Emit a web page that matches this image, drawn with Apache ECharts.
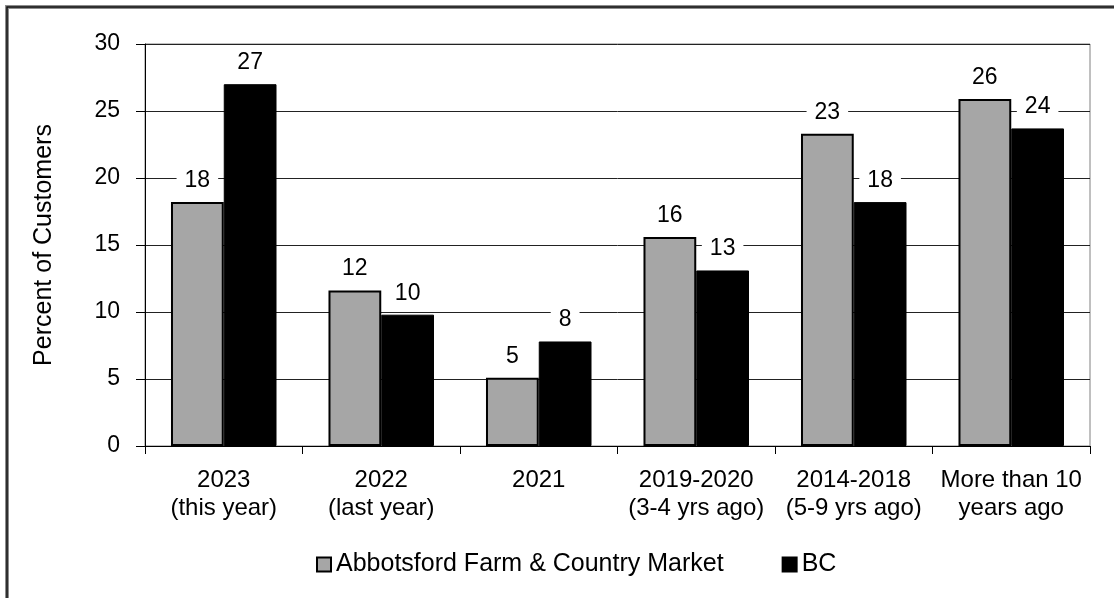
<!DOCTYPE html>
<html>
<head>
<meta charset="utf-8">
<title>Percent of Customers</title>
<script src="https://cdn.jsdelivr.net/npm/echarts@6/dist/echarts.min.js"></script>
<style>
  html, body { margin: 0; padding: 0; background: #fff; }
  #myChart { width: 1114px; height: 598px; }
</style>
</head>
<body>
<div id="myChart"></div>
<script>
// init data
var categories = ['2023\n(this year)', '2022\n(last year)', '2021', '2019-2020\n(3-4 yrs ago)', '2014-2018\n(5-9 yrs ago)', 'More than 10\nyears ago']
var marketValues = [18.2, 11.6, 5.1, 15.6, 23.3, 25.9]
var bcValues = [27.0, 9.8, 7.8, 13.1, 18.2, 23.7]
var seriesNames = ['Abbotsford Farm & Country Market', 'BC']
var yTicks = [0, 5, 10, 15, 20, 25, 30]

// init color
var grayColor = '#a6a6a6'
var blackColor = '#000000'
var fontFamily = '"Liberation Sans", Arial, sans-serif'

var valueLabel = {
	show: true,
	position: 'top',
	distance: 10,
	color: '#000',
	fontSize: 23,
	fontFamily: fontFamily,
	lineHeight: 23,
	backgroundColor: '#fff',
	padding: [0, 8],
	formatter: function(param) {
		return Math.round(param.value)
	}
}

var myChart = echarts.init(document.getElementById('myChart'), null, { renderer: 'canvas' })

myChart.setOption({
	animation: false,
	backgroundColor: '#fff',
	textStyle: { fontFamily: fontFamily },
	// outer frame (only left and top are in view)
	graphic: [
		{
			type: 'rect',
			shape: { x: 7, y: 7, width: 1300, height: 800 },
			style: { fill: 'none', stroke: '#8c8c8c', lineWidth: 4 },
			silent: true
		},
		{
			type: 'rect',
			shape: { x: 7, y: 7, width: 1300, height: 800 },
			style: { fill: 'none', stroke: '#111', lineWidth: 1.5 },
			silent: true
		}
	],
	grid: {
		left: 145,
		right: 24,
		top: 44,
		bottom: 152,
		show: true,
		borderColor: '#808080',
		borderWidth: 1
	},
	legend: {
		data: seriesNames,
		left: 311,
		top: 547,
		itemWidth: 14,
		itemHeight: 14,
		itemGap: 58,
		icon: 'rect',
		textStyle: {
			fontSize: 25,
			color: '#000',
			fontFamily: fontFamily
		}
	},
	xAxis: {
		type: 'category',
		data: categories,
		axisLine: { lineStyle: { color: '#000', width: 1 } },
		axisTick: { show: true, length: 8, lineStyle: { color: '#000' } },
		axisLabel: {
			interval: 0,
			margin: 20,
			color: '#000',
			fontSize: 24,
			lineHeight: 28,
			fontFamily: fontFamily
		},
		splitLine: { show: false }
	},
	yAxis: {
		type: 'value',
		min: yTicks[0],
		max: yTicks[yTicks.length - 1],
		interval: 5,
		name: 'Percent of Customers',
		nameLocation: 'middle',
		nameGap: 88,
		nameRotate: 90,
		nameTextStyle: {
			fontSize: 25,
			color: '#000',
			fontFamily: fontFamily
		},
		axisLine: { show: true, lineStyle: { color: '#000', width: 1 } },
		axisTick: { show: true, length: 9, lineStyle: { color: '#000' } },
		axisLabel: {
			margin: 25,
			color: '#000',
			fontSize: 23,
			fontFamily: fontFamily
		},
		splitLine: { show: true, lineStyle: { color: '#222', width: 1 } }
	},
	series: [
		{
			name: seriesNames[0],
			type: 'bar',
			data: marketValues,
			barGap: '0%',
			barCategoryGap: '33%',
			itemStyle: {
				color: grayColor,
				borderColor: '#000',
				borderWidth: 2
			},
			label: valueLabel
		},
		{
			name: seriesNames[1],
			type: 'bar',
			data: bcValues,
			barGap: '0%',
			barCategoryGap: '33%',
			itemStyle: {
				color: blackColor,
				borderColor: '#000',
				borderWidth: 1
			},
			label: valueLabel
		}
	]
})
</script>
</body>
</html>
